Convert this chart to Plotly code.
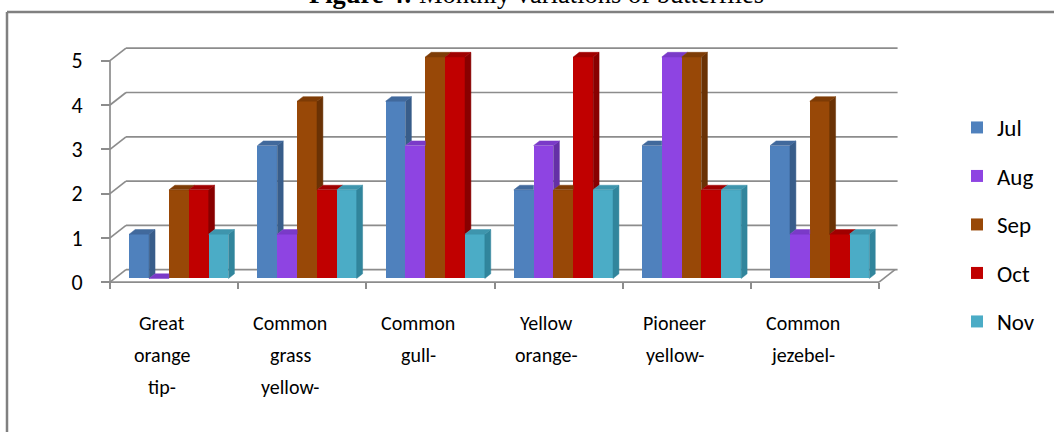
import plotly.graph_objects as go

# ---- data -------------------------------------------------------------
categories = ["Great orange tip-", "Common grass yellow-", "Common gull-",
              "Yellow orange-", "Pioneer yellow-", "Common jezebel-"]
months = ["Jul", "Aug", "Sep", "Oct", "Nov"]
jul = [1, 3, 4, 2, 3, 3]
aug = [0, 1, 3, 3, 5, 1]
sep = [2, 4, 5, 2, 5, 4]
oct_ = [2, 2, 5, 5, 2, 1]
nov = [1, 2, 1, 2, 2, 1]
series = [jul, aug, sep, oct_, nov]
y_ticks = [0, 1, 2, 3, 4, 5]

# ---- styling ------------------------------------------------------------
front_colors = ["#4F81BD", "#8E44E2", "#984807", "#C00000", "#4BACC6"]
side_colors = ["#385D8A", "#6530A6", "#6A3205", "#880000", "#31859C"]
top_colors = ["#41699C", "#7A3AC8", "#7E3C06", "#A00000", "#3E95AD"]
grid_color = "#8C8C8C"
label_font = "Carlito, Lato, 'Open Sans', sans-serif"

W_PX, H_PX = 1054, 432
X0_PX, XSTEP_PX = 110.0, 128.17      # front-left corner, width of one category
Y0_PX, YSTEP_PX = 282.2, 44.3        # front floor line, height of one unit

x_range = [(0 - X0_PX) / XSTEP_PX, (W_PX - X0_PX) / XSTEP_PX]
y_range = [(Y0_PX - H_PX) / YSTEP_PX, Y0_PX / YSTEP_PX]

# 3-D projection offsets (in data units)
wall_dx, wall_dy = 16 / XSTEP_PX, 12.5 / YSTEP_PX       # full depth of floor/walls
bar_fx, bar_fy = 0.30 * wall_dx, 0.30 * wall_dy         # front of bars inside the box
bar_dx, bar_dy = 0.37 * wall_dx, 0.37 * wall_dy         # depth of a bar

group_frac = 0.774
slot = group_frac / len(series)
group_pad = (1 - group_frac) / 2

n_cat = len(categories)
fig = go.Figure()

# ---- walls, floor and gridlines -----------------------------------------
shapes = []
line = dict(color=grid_color, width=1.7)
for k in y_ticks:
    # left wall diagonal
    shapes.append(dict(type="line", xref="x", yref="y", x0=0, y0=k,
                       x1=wall_dx, y1=k + wall_dy, line=line, layer="below"))
    # back wall gridline
    shapes.append(dict(type="line", xref="x", yref="y", x0=wall_dx, y0=k + wall_dy,
                       x1=n_cat + wall_dx + 0.02, y1=k + wall_dy, line=line, layer="below"))
# front vertical axis
shapes.append(dict(type="line", xref="x", yref="y", x0=0, y0=0, x1=0, y1=y_ticks[-1],
                   line=line, layer="below"))
# floor front and right edges
shapes.append(dict(type="line", xref="x", yref="y", x0=0, y0=0, x1=n_cat, y1=0,
                   line=line, layer="below"))
shapes.append(dict(type="line", xref="x", yref="y", x0=n_cat, y0=0,
                   x1=n_cat + wall_dx, y1=wall_dy, line=line, layer="below"))
# outer frame (left and top)
frame = dict(color="#808080", width=2.5)
shapes.append(dict(type="line", xref="paper", yref="paper", x0=7 / W_PX, y0=0,
                   x1=7 / W_PX, y1=1 - 12 / H_PX, line=frame))
shapes.append(dict(type="line", xref="paper", yref="paper", x0=7 / W_PX, y0=1 - 12 / H_PX,
                   x1=1.01, y1=1 - 12 / H_PX, line=frame))

# ---- bars -----------------------------------------------------------------
for m, (name, vals) in enumerate(zip(months, series)):
    xs_front = [i + group_pad + m * slot + bar_fx + slot / 2 for i in range(n_cat)]
    fig.add_trace(go.Bar(
        x=xs_front, y=vals, base=[bar_fy] * n_cat, width=slot, name=name,
        marker=dict(color=front_colors[m], line=dict(width=0)),
        legendgroup=name, hoverinfo="skip"))

for m, vals in enumerate(series):
    side_x, side_y, top_x, top_y = [], [], [], []
    for i in range(n_cat):
        xl = i + group_pad + m * slot + bar_fx
        xr = xl + slot
        b = bar_fy
        t = b + vals[i]
        t_next = b + series[m + 1][i] if m + 1 < len(series) else None
        # right side face, hidden below the neighbouring bar's top
        lo = b if t_next is None else max(b, t_next)
        if lo < t:
            side_x += [xr, xr + bar_dx, xr + bar_dx, xr, xr, None]
            side_y += [lo, lo + bar_dy, t + bar_dy, t, lo, None]
        # top face, clipped by a taller neighbour on the right
        if t_next is None or t_next <= t:
            px = [xl, xr, xr + bar_dx, xl + bar_dx, xl]
            py = [t, t, t + bar_dy, t + bar_dy, t]
        elif t_next >= t + bar_dy:
            px = [xl, xr, xr, xl + bar_dx, xl]
            py = [t, t, t + bar_dy, t + bar_dy, t]
        else:
            s = (t + bar_dy - t_next) / bar_dy
            px = [xl, xr, xr, xr + s * bar_dx, xl + bar_dx, xl]
            py = [t, t, t_next, t + bar_dy, t + bar_dy, t]
        top_x += px + [None]
        top_y += py + [None]
    fig.add_trace(go.Scatter(x=side_x, y=side_y, mode="lines", fill="toself",
                             fillcolor=side_colors[m],
                             line=dict(color=side_colors[m], width=0.5),
                             showlegend=False, hoverinfo="skip"))
    fig.add_trace(go.Scatter(x=top_x, y=top_y, mode="lines", fill="toself",
                             fillcolor=top_colors[m],
                             line=dict(color=top_colors[m], width=0.5),
                             showlegend=False, hoverinfo="skip"))

# ---- category labels ---------------------------------------------------
annotations = []
line_px = [323, 355, 387]
for i, cat in enumerate(categories):
    for j, word in enumerate(cat.split(" ")):
        annotations.append(dict(
            x=i + 0.5 - 12 / XSTEP_PX, y=(Y0_PX - line_px[j]) / YSTEP_PX,
            xref="x", yref="y", text=word, showarrow=False,
            font=dict(family=label_font, size=20, color="#000000"),
            xanchor="center", yanchor="middle"))

# ---- title (partly above the page edge) ----------------------------------
annotations.append(dict(
    x=536.5 / W_PX, y=1 - 11.5 / H_PX, xref="paper", yref="paper", xanchor="center",
    yanchor="bottom", showarrow=False,
    text="<b>Figure 4:</b> Monthly variations of butterflies",
    font=dict(family="Liberation Serif, Times New Roman, serif", size=26.5,
              color="#000000")))

fig.update_layout(
    width=W_PX, height=H_PX, autosize=False,
    margin=dict(l=0, r=0, t=0, b=0),
    paper_bgcolor="white", plot_bgcolor="white",
    barmode="overlay", bargap=0,
    shapes=shapes, annotations=annotations,
    showlegend=True,
    legend=dict(x=957 / W_PX, y=1 - 106 / H_PX, xanchor="left", yanchor="top",
                font=dict(family=label_font, size=23, color="#000000"),
                tracegroupgap=15.6, bgcolor="rgba(0,0,0,0)", traceorder="grouped"),
    xaxis=dict(domain=[0, 1], range=x_range, anchor="free",
               position=(H_PX - Y0_PX) / H_PX,
               tickmode="array", tickvals=list(range(n_cat + 1)),
               ticks="outside", ticklen=6, tickwidth=1.7, tickcolor=grid_color,
               showticklabels=False, showgrid=False, zeroline=False, showline=False,
               fixedrange=True),
    yaxis=dict(domain=[0, 1], range=y_range, anchor="free", position=X0_PX / W_PX,
               tickmode="array", tickvals=y_ticks,
               ticks="outside", ticklen=9, tickwidth=1.7, tickcolor=grid_color,
               ticklabelstandoff=14,
               tickfont=dict(family=label_font, size=22, color="#000000"),
               showgrid=False, zeroline=False, showline=False, fixedrange=True),
)

fig.write_html("out.html")
